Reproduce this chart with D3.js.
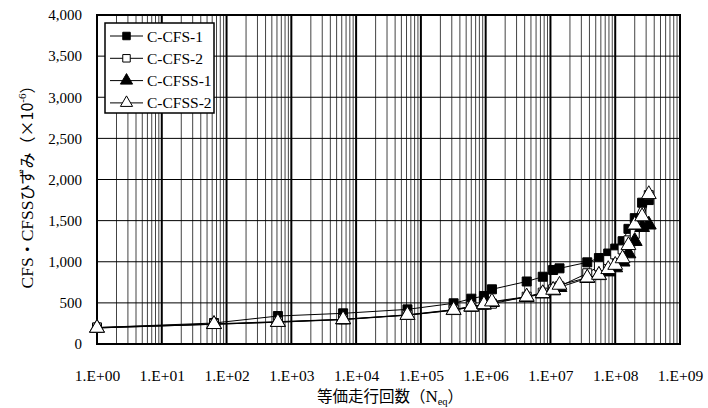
<!DOCTYPE html>
<html>
<head>
<meta charset="utf-8">
<script src="https://cdn.jsdelivr.net/npm/d3@7/dist/d3.min.js"></script>
<style>
  html, body { margin: 0; padding: 0; background: #fff; }
  svg { display: block; }
  text { font-family: "Liberation Serif", "Times New Roman", serif; fill: #000; }
  .jp { font-family: "Noto Sans CJK JP", "Liberation Serif", serif; }
</style>
</head>
<body>
<svg id="chart" width="708" height="408"></svg>
<script>
// Equivalent number of passes (shared by all specimens)
const cycles = [1, 64, 620, 6.3e3, 6.2e4, 3.2e5, 6.0e5, 9.4e5, 1.25e6, 4.3e6, 7.6e6,
                1.1e7, 1.38e7, 3.7e7, 5.6e7, 7.8e7, 1.0e8, 1.3e8, 1.6e8, 2.0e8, 2.6e8, 3.3e8];

// Strain (×10^-6) per specimen
const cfs1  = [200, 255, 340, 373, 421, 495, 551, 584, 665, 760, 818, 900, 920, 993, 1045, 1100, 1160, 1250, 1400, 1530, 1718, 1750];
const cfs2  = [200, 245, 272, 300, 355, 418, 458, 478, 490, 575, 625, 665, 700, 860, 945, 1020, 1090, 1150, 1260, 1340, 1430, 1810];
const cfss1 = [195, 240, 265, 296, 350, 410, 450, 476, 508, 568, 612, 650, 690, 800, 835, 880, 930, 1000, 1100, 1250, 1420, 1450];
const cfss2 = [195, 240, 266, 300, 352, 413, 454, 482, 515, 575, 616, 657, 718, 806, 839, 908, 960, 1040, 1200, 1450, 1550, 1820];

const seriesNames = ["C-CFS-1", "C-CFS-2", "C-CFSS-1", "C-CFSS-2"];
const xTickLabels = ["1.E+00", "1.E+01", "1.E+02", "1.E+03", "1.E+04", "1.E+05", "1.E+06", "1.E+07", "1.E+08", "1.E+09"];
const yTicks = [0, 500, 1000, 1500, 2000, 2500, 3000, 3500, 4000];

const series = [
  { name: seriesNames[0], values: cfs1,  shape: d3.symbolSquare,   fill: "#000" },
  { name: seriesNames[1], values: cfs2,  shape: d3.symbolSquare,   fill: "#fff" },
  { name: seriesNames[2], values: cfss1, shape: d3.symbolTriangle, fill: "#000" },
  { name: seriesNames[3], values: cfss2, shape: d3.symbolTriangle, fill: "#fff" }
];

const serif = "'Liberation Serif', 'Times New Roman', serif";
const svg = d3.select("#chart");
const m = { left: 97, right: 680, top: 15, bottom: 344 };

const x = d3.scaleLog().domain([1, 1e9]).range([m.left, m.right]);
const y = d3.scaleLinear().domain([0, 4000]).range([m.bottom, m.top]);

// Grid: minor decades, then major decades, then horizontal lines
const grid = svg.append("g");
const minor = [];
for (let e = 0; e < 9; e++) for (let k = 2; k <= 9; k++) minor.push(k * Math.pow(10, e));
grid.selectAll("line.minor").data(minor).join("line")
  .attr("x1", d => x(d)).attr("x2", d => x(d))
  .attr("y1", m.top).attr("y2", m.bottom)
  .attr("stroke", "#444").attr("stroke-width", 1);
const major = d3.range(0, 10).map(e => Math.pow(10, e));
grid.selectAll("line.major").data(major).join("line")
  .attr("x1", d => x(d)).attr("x2", d => x(d))
  .attr("y1", m.top).attr("y2", m.bottom)
  .attr("stroke", "#000").attr("stroke-width", 2);
grid.selectAll("line.h").data(yTicks).join("line")
  .attr("x1", m.left).attr("x2", m.right)
  .attr("y1", d => y(d)).attr("y2", d => y(d))
  .attr("stroke", "#000").attr("stroke-width", 1);

// Frame
svg.append("rect")
  .attr("x", m.left).attr("y", m.top)
  .attr("width", m.right - m.left).attr("height", m.bottom - m.top)
  .attr("fill", "none").attr("stroke", "#000").attr("stroke-width", 2);

// Axes (labels only; grid and frame draw the lines)
const xAxis = d3.axisBottom(x).tickValues(major).tickSize(0).tickPadding(0)
  .tickFormat((d, i) => xTickLabels[i]);
const gx = svg.append("g").attr("transform", `translate(0,${m.bottom + 37})`).call(xAxis);
gx.attr("font-family", serif).attr("font-size", 15.5);
gx.select(".domain").remove();
gx.selectAll("text").attr("dy", 0);

const yAxis = d3.axisLeft(y).tickValues(yTicks).tickSize(0).tickPadding(0)
  .tickFormat(d3.format(","));
const gy = svg.append("g").attr("transform", `translate(${m.left - 15},0)`).call(yAxis);
gy.attr("font-family", serif).attr("font-size", 15);
gy.select(".domain").remove();

// Series lines and markers
const line = d3.line().x((d, i) => x(cycles[i])).y(d => y(d));
const plot = svg.append("g");
series.forEach(s => {
  plot.append("path").datum(s.values)
    .attr("d", line).attr("fill", "none")
    .attr("stroke", "#000").attr("stroke-width", 1);
});
series.forEach(s => {
  const size = s.shape === d3.symbolSquare ? 81 : 95;
  plot.selectAll(null).data(s.values).join("path")
    .attr("transform", (d, i) => `translate(${x(cycles[i])},${y(d)})`)
    .attr("d", d3.symbol(s.shape, size))
    .attr("fill", s.fill).attr("stroke", "#000").attr("stroke-width", 1);
});

// Legend
const lg = svg.append("g");
lg.append("rect").attr("x", 105).attr("y", 23).attr("width", 109).attr("height", 90)
  .attr("fill", "#fff").attr("stroke", "#000").attr("stroke-width", 1.5);
series.forEach((s, i) => {
  const yy = 36 + i * 22.3;
  lg.append("line").attr("x1", 110).attr("x2", 143).attr("y1", yy).attr("y2", yy)
    .attr("stroke", "#000").attr("stroke-width", 1);
  const size = s.shape === d3.symbolSquare ? 56 : 64;
  lg.append("path").attr("transform", `translate(126.5,${yy})`)
    .attr("d", d3.symbol(s.shape, size))
    .attr("fill", s.fill).attr("stroke", "#000").attr("stroke-width", 1);
  lg.append("text").attr("x", 147).attr("y", yy + 5.5).attr("font-size", 15.5).text(s.name);
});

// Axis titles
const xt = svg.append("text").attr("class", "jp").attr("x", 390).attr("y", 402)
  .attr("text-anchor", "middle").attr("font-size", 15.5);
xt.append("tspan").text("等価走行回数（");
xt.append("tspan").style("font-family", serif).attr("font-size", 17).text("N");
xt.append("tspan").style("font-family", serif)
  .attr("font-size", 10.5).attr("dy", 2.5).text("eq");
xt.append("tspan").attr("dy", -2.5).text("）");

const yt = svg.append("text").attr("class", "jp")
  .attr("transform", "translate(33,183) rotate(-90)")
  .attr("text-anchor", "middle").attr("font-size", 16);
yt.append("tspan").style("font-family", serif).attr("font-size", 17.5).text("CFS");
yt.append("tspan").text("・");
yt.append("tspan").style("font-family", serif).attr("font-size", 17.5).text("CFSS");
yt.append("tspan").text("ひずみ（×10");
yt.append("tspan").attr("font-size", 11).attr("dy", -7)
  .style("font-family", serif).text("-6");
yt.append("tspan").attr("dy", 7).text("）");
</script>
</body>
</html>
